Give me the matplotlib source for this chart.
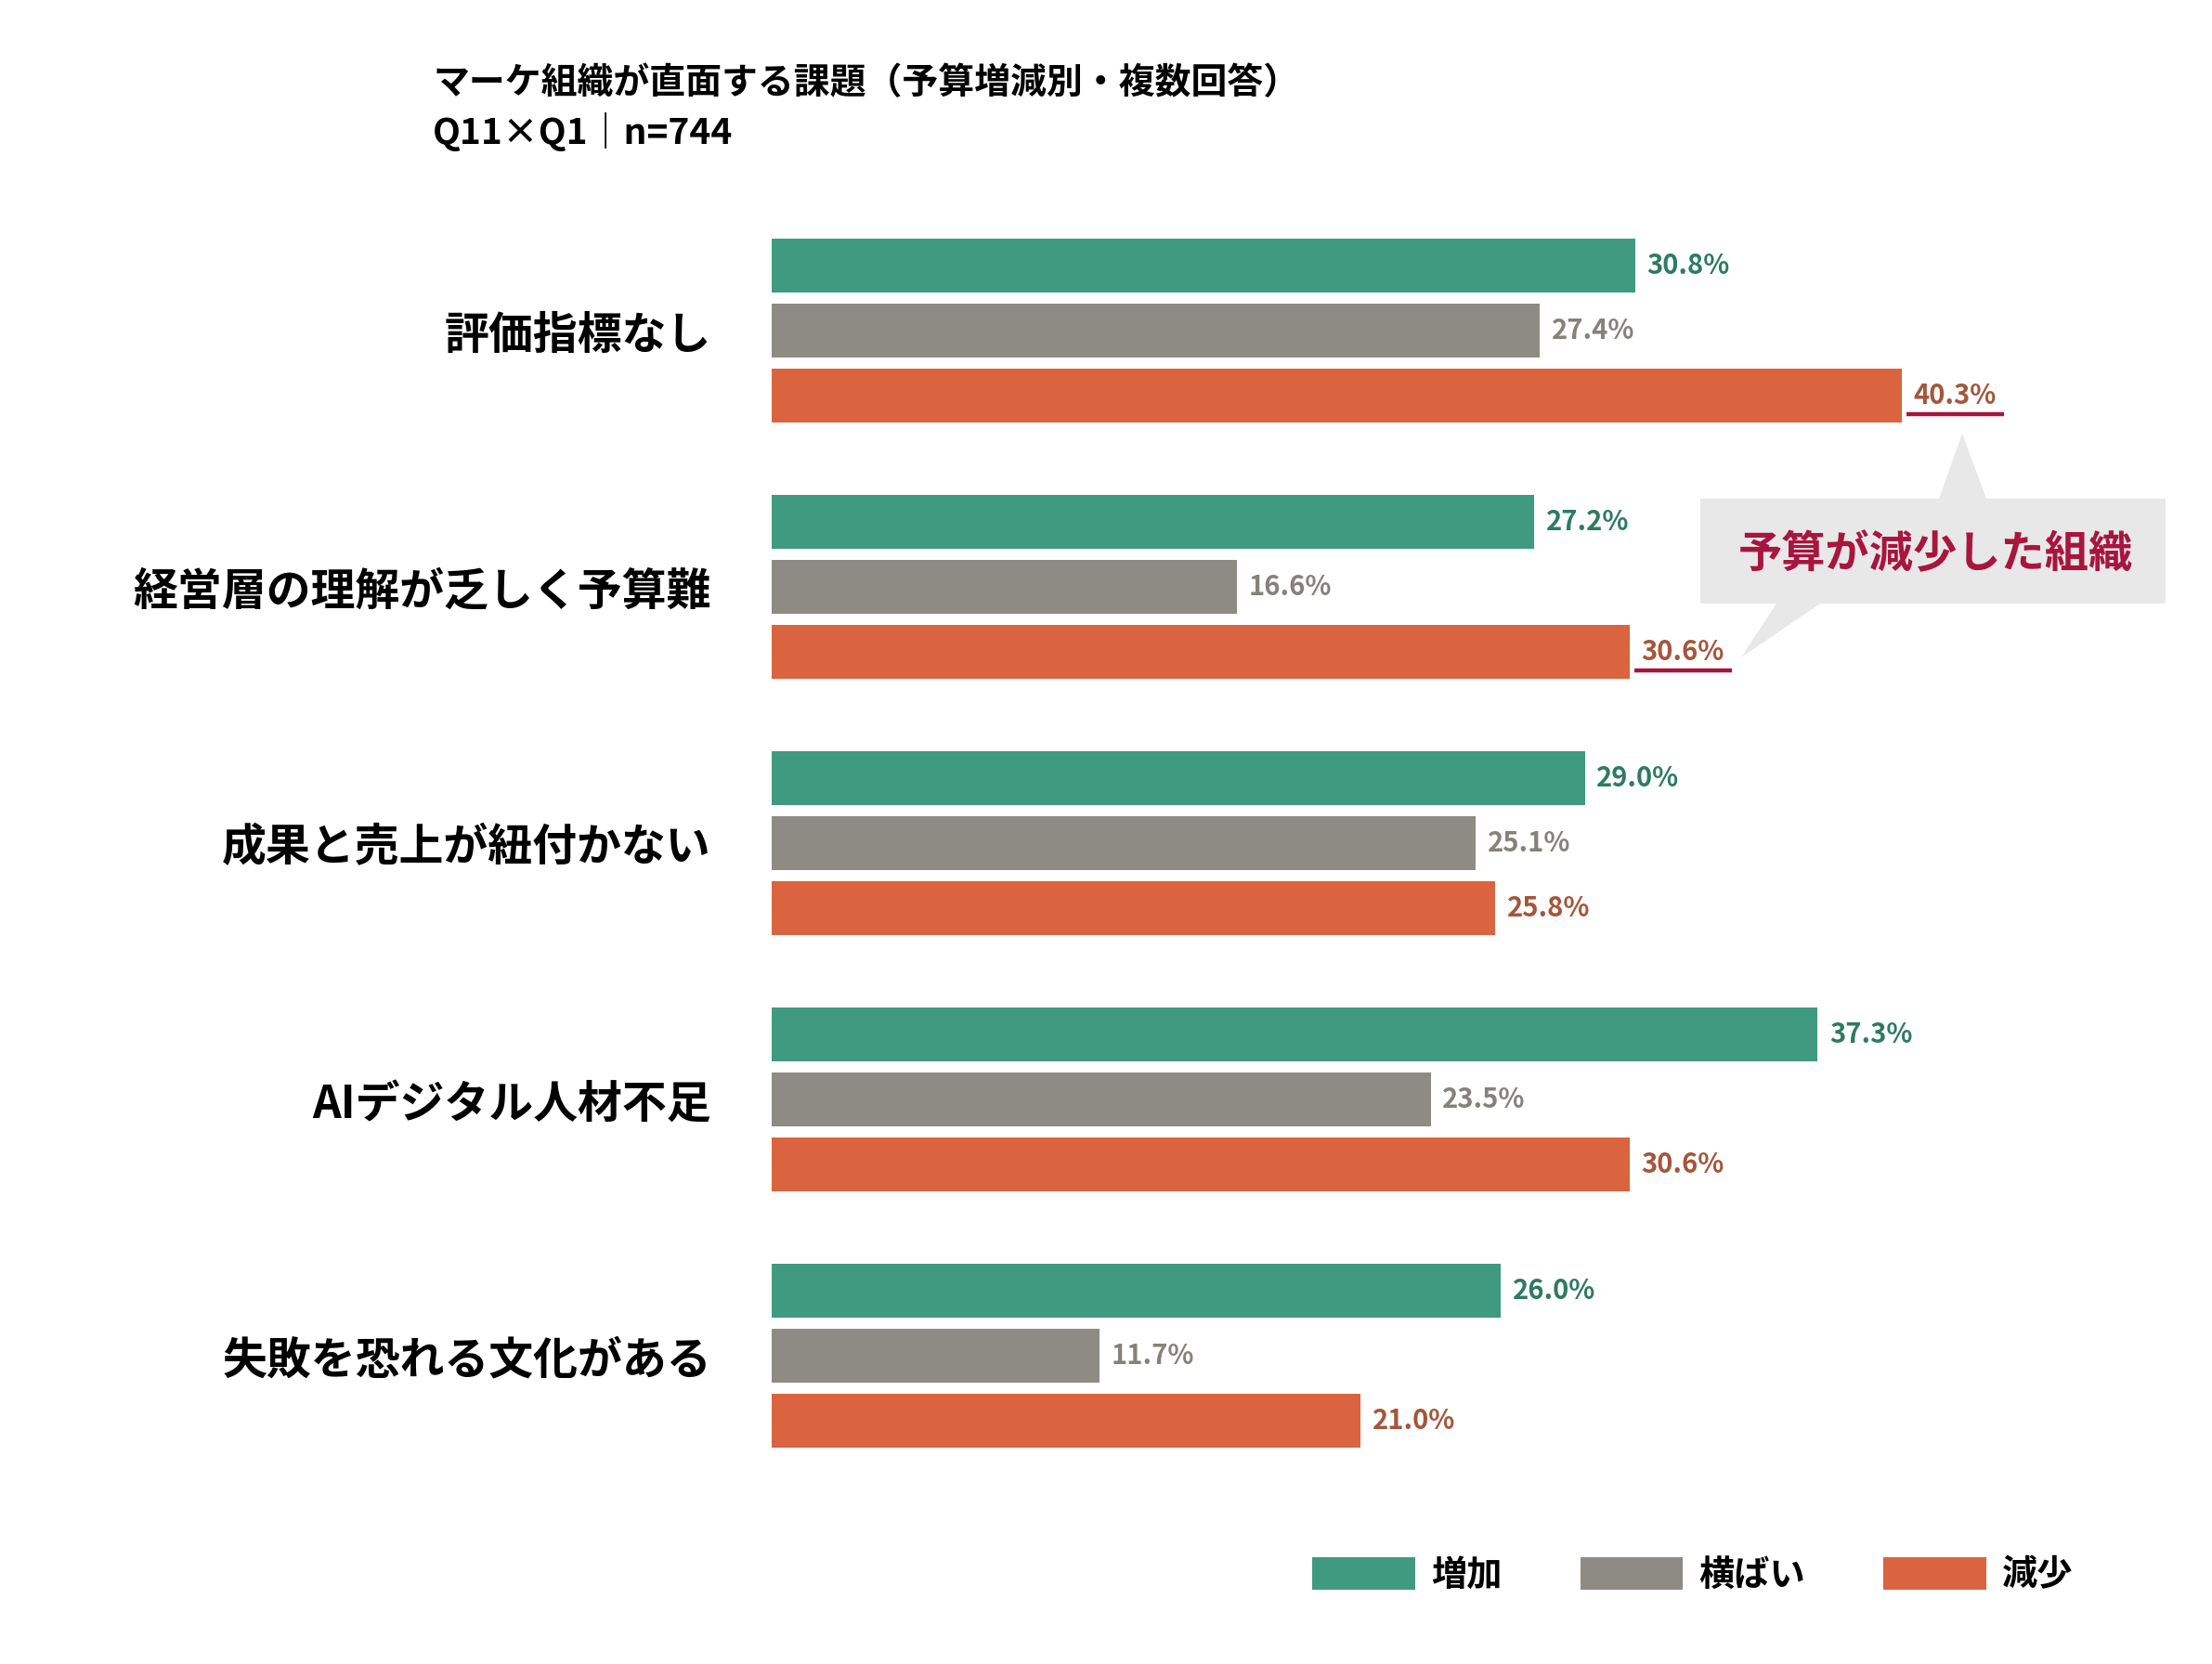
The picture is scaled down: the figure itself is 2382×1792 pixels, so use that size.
import numpy as np
import matplotlib.pyplot as plt
from matplotlib.patches import Polygon

plt.rcParams['font.family'] = ['Noto Sans CJK JP', 'DejaVu Sans']

categories = ['評価指標なし', '経営層の理解が乏しく予算難', '成果と売上が紐付かない',
              'AIデジタル人材不足', '失敗を恐れる文化がある']
series = ['増加', '横ばい', '減少']
increase = [30.8, 27.2, 29.0, 37.3, 26.0]
flat = [27.4, 16.6, 25.1, 23.5, 11.7]
decrease = [40.3, 30.6, 25.8, 30.6, 21.0]
highlight = [0, 1]  # groups whose 減少 value is underlined

bar_colors = ['#3f9a7f', '#8e8b84', '#d9643f']
text_colors = ['#2f7a62', '#85827c', '#a4563a']
accent = '#a8153f'

W, H = 2382, 1792
fig = plt.figure(figsize=(W / 100, H / 100), dpi=100)


def px(x, y):
    # reference pixel -> figure fraction
    return x / W, 1 - y / H


# axes: left edge at x=831 px, ~30.2 px per %, rows 276 px apart
ax_left, ax_top, ax_bot = 831, 200, 1620
ppp = 30.2
xmax = (W - ax_left) / ppp
ax = fig.add_axes([ax_left / W, 1 - ax_bot / H, (W - ax_left) / W, (ax_bot - ax_top) / H])
ax.set_xlim(0, xmax)
ax.set_ylim((ax_bot - 356) / 276, (ax_top - 356) / 276)
for s in ax.spines.values():
    s.set_visible(False)
ax.set_xticks([])

y = np.arange(len(categories))
step = 70 / 276
h = 58 / 276
data = [increase, flat, decrease]
for j, vals in enumerate(data):
    yy = y + (j - 1) * step
    ax.barh(yy, vals, height=h, color=bar_colors[j], label=series[j])
    for v, yc in zip(vals, yy):
        ax.annotate(f'{v:.1f}%', (v, yc), xytext=(9, 0), textcoords='offset points',
                    va='center', ha='left', fontsize=21, fontweight='bold',
                    color=text_colors[j])

# underline the highlighted 減少 labels
for i in highlight:
    v = decrease[i]
    yu = y[i] + step + 20 / 276
    ax.plot([v + 5 / ppp, v + 110 / ppp], [yu, yu], color=accent, lw=3.2,
            solid_capstyle='butt', clip_on=False)

ax.set_yticks(y)
ax.set_yticklabels(categories, fontsize=34.5, fontweight='bold')
ax.tick_params(axis='y', length=0, pad=47)

# callout bubble
pts = [(1831, 537), (2088, 537), (2113, 467), (2139, 537), (2332, 537),
       (2332, 650), (1960, 650), (1875, 708), (1913, 650), (1831, 650)]
bubble = Polygon([px(a, b) for a, b in pts], closed=True, transform=fig.transFigure,
                 facecolor='#e8e8e8', edgecolor='none')
fig.patches.append(bubble)
fig.text(*px(2084, 597), '予算が減少した組織', ha='center', va='center',
         fontsize=34, fontweight='bold', color=accent)

# title
fig.text(*px(466, 90), 'マーケ組織が直面する課題（予算増減別・複数回答）', ha='left', va='center',
         fontsize=28, fontweight='bold')
fig.text(*px(466, 142), 'Q11×Q1｜n=744', ha='left', va='center',
         fontsize=28, fontweight='bold')

# legend
fig.legend(*ax.get_legend_handles_labels(), loc='center', bbox_to_anchor=px(1823, 1696),
           ncol=3, frameon=False, prop={'size': 27.5, 'weight': 'bold'},
           handlelength=2.9, handleheight=1.0, handletextpad=0.45, columnspacing=2.2)

fig.savefig('out.png', dpi=100, facecolor='white')
